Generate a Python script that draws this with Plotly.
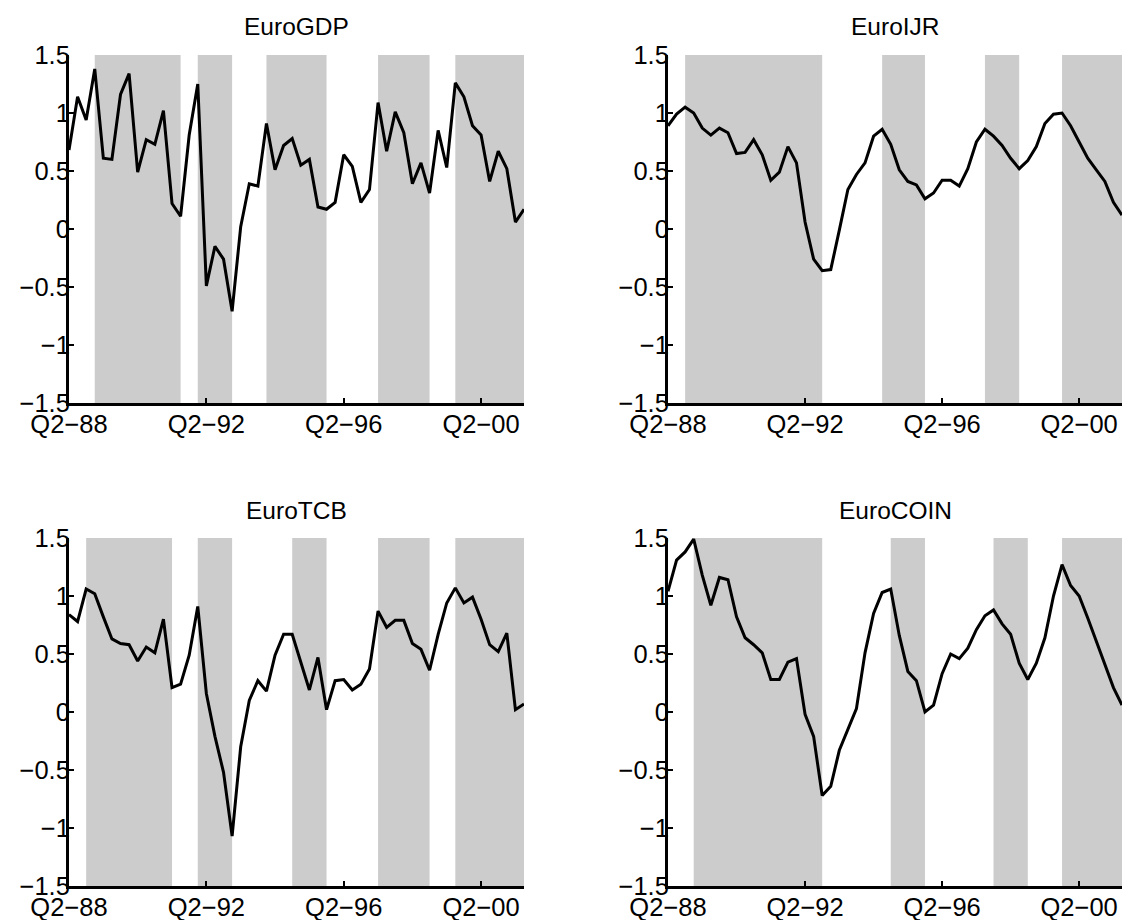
import plotly.graph_objects as go

# Quarterly periods Q2-88 ... Q3-01
years = list(range(88, 100)) + list(range(0, 2))
quarters = [f"Q{q}-{y:02d}" for y in years for q in (1, 2, 3, 4)]
quarters = quarters[quarters.index("Q2-88"):quarters.index("Q3-01") + 1]

tick_quarters = ["Q2-88", "Q2-92", "Q2-96", "Q2-00"]
tick_labels = ["Q2\u221288", "Q2\u221292", "Q2\u221296", "Q2\u221200"]
y_ticks = [-1.5, -1, -0.5, 0, 0.5, 1, 1.5]

titles = ["EuroGDP", "EuroIJR", "EuroTCB", "EuroCOIN"]

euro_gdp = [0.68, 1.14, 0.94, 1.38, 0.61, 0.60, 1.16, 1.34, 0.49, 0.77,
            0.73, 1.02, 0.22, 0.11, 0.81, 1.25, -0.49, -0.15, -0.26, -0.71,
            0.02, 0.39, 0.37, 0.91, 0.51, 0.72, 0.78, 0.55, 0.60, 0.19,
            0.17, 0.23, 0.64, 0.54, 0.23, 0.34, 1.09, 0.67, 1.01, 0.83,
            0.39, 0.57, 0.31, 0.85, 0.53, 1.26, 1.14, 0.89, 0.81, 0.41,
            0.67, 0.52, 0.06, 0.17]
euro_ijr = [0.89, 0.99, 1.05, 1.00, 0.87, 0.81, 0.87, 0.83, 0.65, 0.66,
            0.77, 0.64, 0.42, 0.49, 0.71, 0.57, 0.06, -0.26, -0.36, -0.35,
            -0.01, 0.34, 0.47, 0.57, 0.80, 0.86, 0.73, 0.51, 0.41, 0.38,
            0.26, 0.31, 0.42, 0.42, 0.37, 0.52, 0.75, 0.86, 0.80, 0.72,
            0.61, 0.52, 0.59, 0.71, 0.91, 0.99, 1.00, 0.89, 0.75, 0.61,
            0.51, 0.41, 0.23, 0.12]
euro_tcb = [0.84, 0.78, 1.06, 1.02, 0.82, 0.63, 0.59, 0.58, 0.44, 0.56,
            0.51, 0.80, 0.21, 0.24, 0.49, 0.91, 0.16, -0.21, -0.52, -1.07,
            -0.30, 0.10, 0.27, 0.18, 0.49, 0.67, 0.67, 0.42, 0.19, 0.47,
            0.02, 0.27, 0.28, 0.19, 0.24, 0.37, 0.87, 0.73, 0.79, 0.79,
            0.59, 0.54, 0.36, 0.67, 0.94, 1.07, 0.94, 0.99, 0.80, 0.58,
            0.52, 0.68, 0.02, 0.07]
euro_coin = [1.04, 1.31, 1.38, 1.49, 1.18, 0.92, 1.16, 1.14, 0.82, 0.64,
             0.58, 0.51, 0.28, 0.28, 0.43, 0.46, -0.02, -0.21, -0.72, -0.64,
             -0.33, -0.15, 0.03, 0.51, 0.85, 1.03, 1.06, 0.66, 0.35, 0.27,
             0.00, 0.06, 0.33, 0.50, 0.46, 0.55, 0.71, 0.83, 0.88, 0.76,
             0.67, 0.42, 0.28, 0.42, 0.64, 1.00, 1.27, 1.09, 1.00, 0.81,
             0.61, 0.42, 0.21, 0.06]

shade_gdp = [("Q1-89", "Q3-91"), ("Q1-92", "Q1-93"), ("Q1-94", "Q4-95"),
             ("Q2-97", "Q4-98"), ("Q3-99", "Q3-01")]
shade_ijr = [("Q4-88", "Q4-92"), ("Q3-94", "Q4-95"), ("Q3-97", "Q3-98"),
             ("Q4-99", "Q3-01")]
shade_tcb = [("Q4-88", "Q2-91"), ("Q1-92", "Q1-93"), ("Q4-94", "Q4-95"),
             ("Q2-97", "Q4-98"), ("Q3-99", "Q3-01")]
shade_coin = [("Q1-89", "Q4-92"), ("Q4-94", "Q4-95"), ("Q4-97", "Q4-98"),
              ("Q4-99", "Q3-01")]

series = [euro_gdp, euro_ijr, euro_tcb, euro_coin]
shades = [shade_gdp, shade_ijr, shade_tcb, shade_coin]

W, H = 1123, 920
# pixel boxes (left, right, top, bottom)
boxes = [(69, 524, 55, 403), (668, 1122, 55, 403),
         (69, 524, 538, 886), (668, 1122, 538, 886)]
title_y = [27, 27, 510, 510]

FONT = "Liberation Sans, Arial, Helvetica, sans-serif"
x_idx = list(range(len(quarters)))

fig = go.Figure()
shapes = []
annotations = []
layout_axes = {}
for i in range(4):
    n = "" if i == 0 else str(i + 1)
    xa, ya = f"x{n}", f"y{n}"
    l, r, t, b = boxes[i]
    fig.add_trace(go.Scatter(x=x_idx, y=series[i], mode="lines",
                             line=dict(color="black", width=3),
                             xaxis=xa, yaxis=ya, showlegend=False,
                             hoverinfo="skip", cliponaxis=False))
    for s0, s1 in shades[i]:
        shapes.append(dict(type="rect", xref=xa, yref=f"{ya} domain",
                           x0=quarters.index(s0), x1=quarters.index(s1),
                           y0=0, y1=1, fillcolor="#cccccc",
                           line=dict(width=0), layer="below"))
    common = dict(showline=True, linecolor="black", linewidth=3,
                  ticks="inside", ticklen=5, tickwidth=2, tickcolor="black",
                  showgrid=False, zeroline=False, automargin=False,
                  tickfont=dict(family=FONT, size=25.5, color="black"))
    layout_axes[f"xaxis{n}"] = dict(
        domain=[l / W, r / W], range=[0, len(quarters) - 1], anchor=ya,
        tickmode="array", tickvals=[quarters.index(q) for q in tick_quarters],
        ticktext=tick_labels, ticklabelstandoff=-4, **common)
    layout_axes[f"yaxis{n}"] = dict(
        domain=[(H - b) / H, (H - t) / H], range=[-1.5, 1.5], anchor=xa,
        tickmode="array", tickvals=y_ticks,
        ticktext=[("\u2212" if v < 0 else "") + f"{abs(v):g}" for v in y_ticks],
        ticklabelstandoff=-9, **common)
    annotations.append(dict(text=titles[i], x=(l + r) / 2 / W,
                            y=(H - title_y[i]) / H, xref="paper", yref="paper",
                            showarrow=False, xanchor="center", yanchor="middle",
                            font=dict(family=FONT, size=24.5, color="black")))

fig.update_layout(template="none", width=W, height=H,
                  margin=dict(l=0, r=0, t=0, b=0, autoexpand=False),
                  plot_bgcolor="white", paper_bgcolor="white",
                  shapes=shapes, annotations=annotations, **layout_axes)
fig.write_html("out.html", config={"displayModeBar": False},
               post_script="document.body.style.margin='0';"
                           "document.body.style.overflow='hidden';")
